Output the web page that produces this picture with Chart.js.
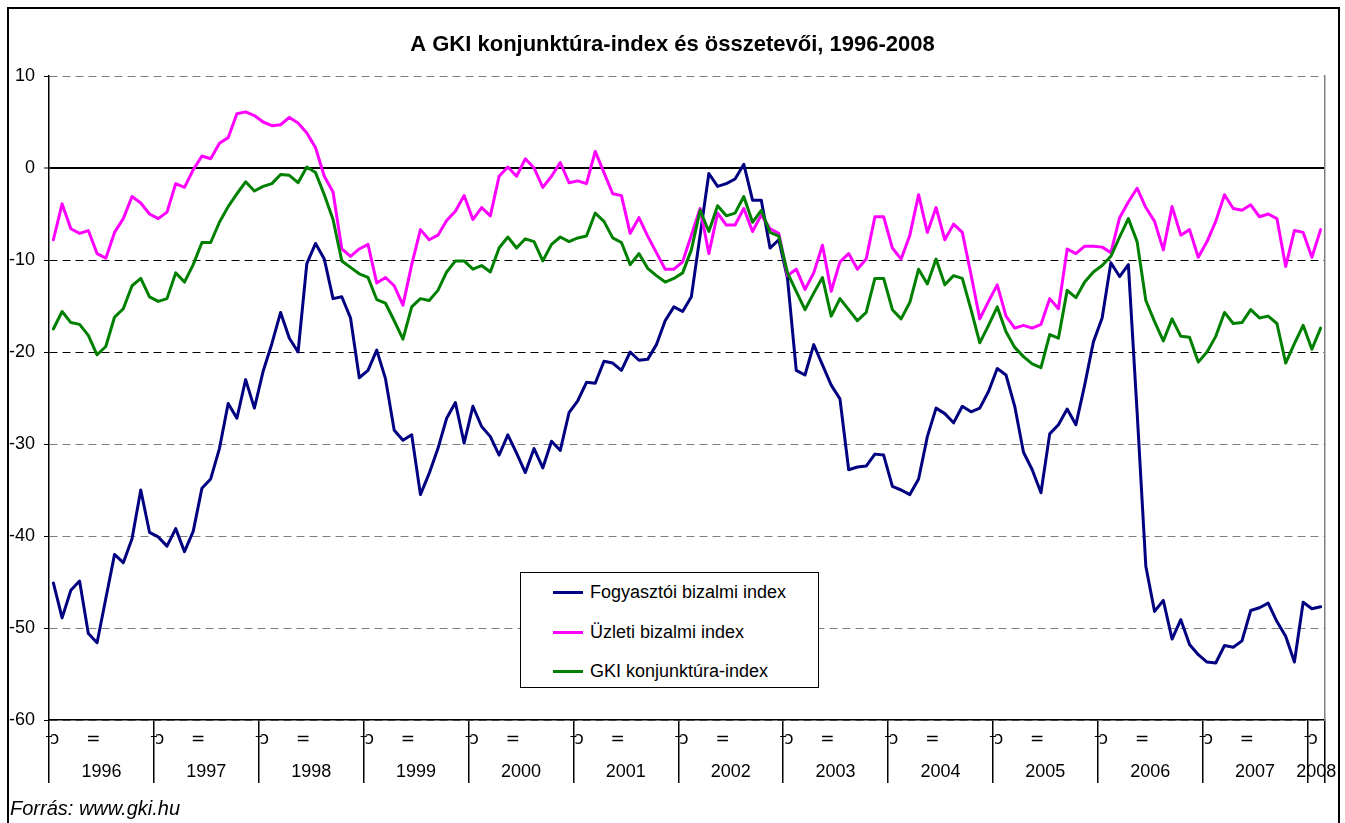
<!DOCTYPE html>
<html lang="hu">
<head>
<meta charset="utf-8">
<title>A GKI konjunktúra-index és összetevői, 1996-2008</title>
<script src="https://cdn.jsdelivr.net/npm/chart.js@4.4.1/dist/chart.umd.min.js"></script>
<style>
    html, body { margin: 0; padding: 0; background: #fff; overflow: hidden; }
    #wrap { position: relative; width: 1345px; height: 823px; font-family: "Liberation Sans", Arial, sans-serif; color: #000; }
    #gkiChart { position: absolute; left: 0; top: 0; }
    #frame { position: absolute; left: 7px; top: 7px; width: 1333px; height: 900px; border: 2px solid #000; box-sizing: border-box; pointer-events: none; }
    #legend { position: absolute; left: 520px; top: 572px; width: 299px; height: 116px; border: 1px solid #000; box-sizing: border-box; background: #fff; }
    #legend .row { position: absolute; left: 0; height: 22px; line-height: 22px; font-size: 18px; white-space: nowrap; }
    #legend .swatch { position: absolute; left: 32px; top: 9.5px; width: 30px; height: 3px; }
    #legend .txt { position: absolute; left: 69px; top: 0; }
    #source { position: absolute; left: 10px; top: 797px; font-size: 20px; line-height: 22px; font-style: italic; }
</style>
</head>
<body>
<div id="wrap">
    <canvas id="gkiChart" width="1345" height="823"></canvas>
    <div id="legend"></div>
    <div id="source">Forrás: www.gki.hu</div>
    <div id="frame"></div>
</div>
<script>
const chartTitle = 'A GKI konjunktúra-index és összetevői, 1996-2008';
const years = ['1996', '1997', '1998', '1999', '2000', '2001', '2002', '2003', '2004', '2005', '2006', '2007', '2008'];
const monthsInLastYear = 2;
const seriesNames = ['Fogyasztói bizalmi index', 'Üzleti bizalmi index', 'GKI konjunktúra-index'];
const seriesColors = ['#000080', '#ff00ff', '#008000'];
const yTicks = { min: -60, max: 10, step: 10 };

// monthly values, Jan 1996 - Feb 2008
const fogyasztoi = [
    -45.1, -48.9, -45.9, -44.9, -50.6, -51.6, -46.8, -42.0, -42.9, -40.3, -35.0, -39.6,
    -40.1, -41.1, -39.2, -41.7, -39.5, -34.8, -33.8, -30.5, -25.6, -27.2, -23.0, -26.1,
    -22.1, -19.1, -15.7, -18.5, -20.0, -10.4, -8.2, -9.9, -14.2, -14.0, -16.3, -22.8,
    -22.0, -19.8, -22.9, -28.5, -29.6, -29.0, -35.5, -33.2, -30.5, -27.2, -25.5, -29.9,
    -25.9, -28.1, -29.2, -31.2, -29.0, -31.0, -33.1, -30.5, -32.6, -29.7, -30.7, -26.6,
    -25.3, -23.3, -23.4, -21.0, -21.2, -22.0, -20.0, -20.9, -20.8, -19.2, -16.6, -15.1,
    -15.6, -14.0, -7.3, -0.6, -2.0, -1.7, -1.2, 0.4, -3.5, -3.5, -8.7, -7.8,
    -12.0, -22.0, -22.5, -19.2, -21.4, -23.6, -25.1, -32.8, -32.5, -32.4, -31.1, -31.2,
    -34.6, -35.0, -35.5, -33.8, -29.2, -26.1, -26.7, -27.7, -25.9, -26.5, -26.1, -24.3,
    -21.8, -22.5, -25.9, -30.9, -32.8, -35.3, -28.9, -27.9, -26.2, -27.9, -23.6, -18.9,
    -16.3, -10.3, -11.8, -10.5, -26.5, -43.3, -48.2, -47.0, -51.2, -49.1, -51.8, -52.9,
    -53.7, -53.8, -51.9, -52.1, -51.4, -48.1, -47.8, -47.3, -49.3, -50.9, -53.7, -47.2,
    -47.9, -47.7
];
const uzleti = [
    -7.8, -3.9, -6.6, -7.1, -6.8, -9.3, -9.8, -7.0, -5.5, -3.1, -3.8, -5.0,
    -5.5, -4.8, -1.7, -2.1, -0.2, 1.3, 1.0, 2.7, 3.3, 5.9, 6.1, 5.7,
    5.0, 4.6, 4.7, 5.5, 4.9, 3.8, 2.2, -0.9, -2.6, -8.8, -9.6, -8.8,
    -8.3, -12.5, -11.9, -12.8, -14.9, -10.5, -6.7, -7.8, -7.3, -5.7, -4.7, -3.0,
    -5.6, -4.3, -5.2, -0.9, 0.1, -0.9, 1.0, 0.0, -2.1, -0.9, 0.6, -1.6,
    -1.4, -1.7, 1.8, -0.5, -2.8, -3.0, -7.1, -5.4, -7.4, -9.2, -11.0, -11.0,
    -10.2, -7.3, -4.4, -9.3, -4.9, -6.2, -6.2, -4.4, -6.9, -5.1, -6.6, -7.1,
    -11.7, -11.0, -13.2, -11.4, -8.4, -13.4, -10.2, -9.3, -11.0, -9.9, -5.3, -5.3,
    -8.7, -9.9, -7.3, -2.9, -7.0, -4.3, -7.8, -6.1, -7.0, -11.6, -16.4, -14.5,
    -12.7, -16.1, -17.4, -17.1, -17.4, -17.0, -14.2, -15.3, -8.8, -9.3, -8.5, -8.5,
    -8.6, -9.2, -5.4, -3.7, -2.2, -4.3, -5.8, -8.9, -4.2, -7.3, -6.7, -9.7,
    -8.0, -5.8, -2.9, -4.4, -4.6, -4.0, -5.3, -5.0, -5.5, -10.7, -6.8, -7.0,
    -9.7, -6.7
];
const gki = [
    -17.5, -15.6, -16.8, -17.0, -18.2, -20.3, -19.4, -16.2, -15.3, -12.8, -12.0, -14.0,
    -14.5, -14.2, -11.4, -12.4, -10.5, -8.1, -8.1, -5.9, -4.2, -2.8, -1.5, -2.5,
    -2.0, -1.7, -0.7, -0.8, -1.6, 0.1, -0.5, -2.9, -5.6, -10.1, -10.8, -11.5,
    -11.9, -14.3, -14.7, -16.6, -18.6, -15.1, -14.2, -14.4, -13.3, -11.3, -10.1, -10.1,
    -11.0, -10.6, -11.3, -8.7, -7.5, -8.7, -7.7, -8.0, -10.1, -8.3, -7.5, -8.0,
    -7.6, -7.4, -4.9, -5.8, -7.6, -8.1, -10.5, -9.3, -10.9, -11.7, -12.4, -12.0,
    -11.4, -8.9, -4.6, -6.9, -4.1, -5.2, -4.9, -3.1, -5.9, -4.6, -7.0, -7.4,
    -11.4, -13.4, -15.4, -13.6, -11.9, -16.1, -14.2, -15.4, -16.6, -15.7, -12.0, -12.0,
    -15.4, -16.4, -14.6, -11.0, -12.6, -9.9, -12.7, -11.7, -12.0, -15.4, -19.0, -17.1,
    -15.1, -17.8, -19.5, -20.5, -21.3, -21.7, -18.1, -18.5, -13.3, -14.1, -12.4, -11.3,
    -10.6, -9.6, -7.5, -5.5, -8.0, -14.4, -16.7, -18.8, -16.4, -18.3, -18.4, -21.1,
    -20.0, -18.3, -15.7, -16.9, -16.8, -15.4, -16.3, -16.1, -16.9, -21.2, -19.1, -17.1,
    -19.7, -17.4
];

const fontFamily = '"Liberation Sans", Arial, sans-serif';

// one category per month
let monthLabels = [];
years.forEach((yr, k) => {
    let n = k === years.length - 1 ? monthsInLastYear : 12;
    for (let m = 1; m <= n; m++) monthLabels.push(yr + '-' + String(m).padStart(2, '0'));
});

// year names and the little month marks under the axis
const yearAxisPlugin = {
    id: 'yearAxis',
    afterDraw(chart) {
        const x = chart.scales.x;
        const ctx = chart.ctx;
        const half = (x.getPixelForValue(1) - x.getPixelForValue(0)) / 2;
        ctx.save();
        ctx.fillStyle = '#000';
        ctx.strokeStyle = '#000';
        ctx.lineWidth = 1;
        ctx.textBaseline = 'middle';
        years.forEach((yr, k) => {
            let first = k * 12;
            let last = Math.min(first + 11, monthLabels.length - 1);
            let left = x.getPixelForValue(first) - half;
            let right = x.getPixelForValue(last) + half;
            ctx.font = '18px ' + fontFamily;
            ctx.textAlign = 'center';
            ctx.fillText(yr, (left + right) / 2, 772);
            ctx.font = '17px "DejaVu Sans", sans-serif';
            ctx.textAlign = 'left';
            ctx.fillText('\u2184', left + 1, 740);
            ctx.beginPath();
            ctx.moveTo(left - 3, 736.5);
            ctx.lineTo(left + 3, 736.5);
            ctx.stroke();
            if (first + 6 <= last) {
                ctx.textAlign = 'right';
                ctx.fillText('=', x.getPixelForValue(first + 6) - half - 1, 740);
            }
        });
        ctx.restore();
    }
};

const gridColor = (c) => {
    if (!c.tick) return '#000';
    let v = c.tick.value;
    if (v === 0 || v === -10 || v === -20) return '#000';
    return '#808080';
};

const chart = new Chart(document.getElementById('gkiChart'), {
    type: 'line',
    data: {
        labels: monthLabels,
        datasets: [
            { label: seriesNames[0], data: fogyasztoi, borderColor: seriesColors[0], backgroundColor: seriesColors[0], order: 3 },
            { label: seriesNames[1], data: uzleti, borderColor: seriesColors[1], backgroundColor: seriesColors[1], order: 2 },
            { label: seriesNames[2], data: gki, borderColor: seriesColors[2], backgroundColor: seriesColors[2], order: 1 }
        ]
    },
    options: {
        responsive: false,
        animation: false,
        layout: { padding: 0 },
        elements: {
            point: { radius: 0, hoverRadius: 0 },
            line: { borderWidth: 3, tension: 0, borderJoinStyle: 'round', borderCapStyle: 'round' }
        },
        plugins: {
            legend: { display: false },
            tooltip: { enabled: false },
            title: {
                display: true,
                text: chartTitle,
                color: '#000',
                font: { family: fontFamily, size: 22, weight: 'bold' },
                padding: { top: 32, bottom: 17.6 }
            }
        },
        scales: {
            x: {
                type: 'category',
                offset: true,
                ticks: { display: false, autoSkip: false },
                grid: {
                    offset: true,
                    drawOnChartArea: false,
                    drawTicks: true,
                    tickLength: 63,
                    lineWidth: 1.5,
                    color: (c) => (c.index === undefined || c.index % 12 === 0) ? '#000' : 'rgba(0,0,0,0)'
                },
                border: { display: true, color: '#000', width: 1.5 },
                afterFit: (s) => { s.height = 103; }
            },
            y: {
                min: yTicks.min,
                max: yTicks.max,
                ticks: { stepSize: yTicks.step, color: '#000', font: { family: fontFamily, size: 18 }, padding: 9 },
                grid: {
                    color: gridColor,
                    lineWidth: (c) => (c.tick && c.tick.value === 0) ? 2 : 1,
                    tickLength: 5,
                    tickColor: '#000',
                    tickWidth: 1
                },
                border: {
                    color: '#000',
                    width: 1.5,
                    dash: (c) => (c.tick && c.tick.value !== 0) ? [8, 5] : []
                },
                afterFit: (s) => { s.width = 49; }
            },
            y2: {
                position: 'right',
                min: yTicks.min,
                max: yTicks.max,
                ticks: { display: false },
                grid: { display: false, drawTicks: false },
                border: { display: true, color: '#808080', width: 1.5 },
                afterFit: (s) => { s.width = 20; }
            }
        }
    },
    plugins: [yearAxisPlugin]
});

// legend box
const legendBox = document.getElementById('legend');
const rowTops = [8, 48, 87];
chart.data.datasets.forEach((ds, i) => {
    let row = document.createElement('div');
    row.className = 'row';
    row.style.top = rowTops[i] + 'px';
    row.innerHTML = '<span class="swatch" style="background:' + ds.borderColor + '"></span><span class="txt">' + ds.label + '</span>';
    legendBox.appendChild(row);
});
</script>
</body>
</html>
